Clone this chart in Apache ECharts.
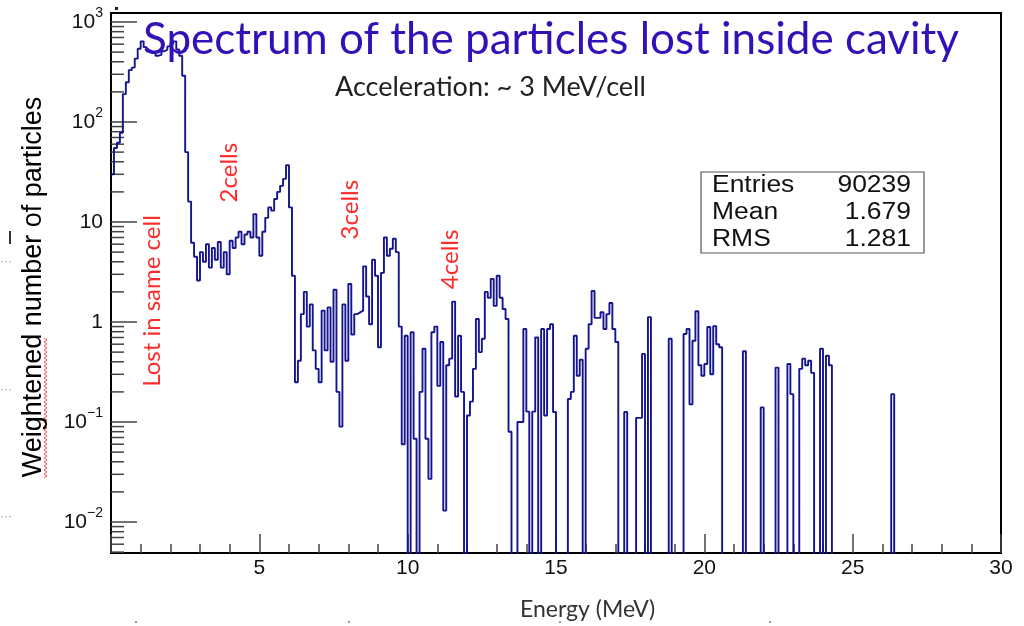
<!DOCTYPE html>
<html>
<head>
<meta charset="utf-8">
<script src="https://cdn.jsdelivr.net/npm/echarts@6/dist/echarts.min.js"></script>
<style>
html,body{margin:0;padding:0;background:#fff;}
#chart{width:1024px;height:626px;}
</style>
</head>
<body>
<div id="chart"></div>
<script>
// ---- data ----
const chartTitle = 'Spectrum of the particles lost inside cavity';
const subTitle = 'Acceleration: ~ 3 MeV/cell';
const xTitle = 'Energy (MeV)';
const yTitle = 'Weightened number of particles';
const xMin = 0, xMax = 30, xStep = 5;
const yMin = 0.0049, yMax = 1230;
const binWidth = 0.1; // MeV
// weighted counts per 0.1 MeV bin, from 0 MeV (0 = empty bin)
const binCounts = [
  // 0.0 - 2.6
  30, 55, 62, 78, 190, 250, 330, 350, 430, 540,
  640, 560, 510, 490, 490, 460, 470, 510, 530, 570,
  610, 640, 530, 460, 290, 50, 16,
  // 2.7 - 6.0
  6.2, 4.5, 2.6, 5.0, 4.0, 6.0, 3.5, 5.5, 4.2, 6.3,
  3.5, 5.0, 3.0, 6.5, 5.5, 7.0, 8.0, 6.0, 7.5, 8.0,
  7.0, 12, 7.0, 4.6, 8.0, 11, 14, 13, 17, 20,
  23, 27, 37, 14,
  // 6.1 - 9.9
  2.9, 0.25, 0.41, 1.2, 2.0, 0.9, 1.5, 0.52, 0.34, 0.25,
  1.3, 0.52, 1.4, 0.4, 2.1, 0.2, 0.09, 1.5, 0.41, 2.4,
  0.75, 1.2, 1.25, 1.3, 3.6, 1.8, 0.95, 4.2, 2.9, 0.56,
  3.1, 7.0, 4.6, 5.4, 6.8, 5.0, 0.9, 0.06, 0.73,
  // 10.0 - 14.9
  0, 0.79, 0.068, 0, 0.2, 0.54, 0.068, 0.027, 0.79, 0.9,
  0.23, 0.63, 0.013, 0.37, 0.43, 1.6, 0.18, 0.73, 0.2, 0,
  0.116, 0.16, 0.34, 1.07, 0.5, 0.68, 2.0, 1.75, 2.7, 1.45,
  2.9, 1.75, 1.35, 1.07, 0.08, 0, 0, 0.1, 0.1, 0.85,
  0.127, 0, 0.127, 0.7, 0, 0.85, 0.116, 0.85, 0.95, 0.126,
  // 15.0 - 19.9
  0, 0, 0, 0, 0.17, 0.2, 0.73, 0.29, 0.42, 0,
  0.54, 0.95, 2.05, 1.1, 1.1, 1.25, 0.85, 1.2, 1.55, 0.85,
  0.63, 0, 0, 0.126, 0, 0, 0, 0.11, 0.11, 0.48,
  0, 1.12, 0, 0, 0, 0, 0, 0, 0.68, 0,
  0, 0, 0, 0.76, 0.85, 0.15, 0.65, 1.28, 0.37, 0.29,
  // 20.0 - 24.9
  0.38, 0.89, 0.3, 0.91, 0.6, 0.56, 0, 0, 0, 0,
  0, 0, 0, 0.51, 0, 0, 0, 0, 0, 0.14,
  0, 0, 0, 0, 0.35, 0, 0, 0, 0.38, 0.19,
  0, 0, 0.34, 0.43, 0.37, 0.41, 0.31, 0, 0, 0.54,
  0, 0.46, 0.37, 0, 0, 0, 0, 0, 0, 0,
  // 25.0 - 29.9
  0, 0, 0, 0, 0, 0, 0, 0, 0, 0,
  0, 0, 0, 0.19, 0, 0, 0, 0, 0, 0,
  0, 0, 0, 0, 0, 0, 0, 0, 0, 0,
  0, 0, 0, 0, 0, 0, 0, 0, 0, 0,
  0, 0, 0, 0, 0, 0, 0, 0, 0, 0
];
const statLabels = ['Entries', 'Mean', 'RMS'];
const statValues = ['90239', '1.679', '1.281'];
const notes = [
  {text: 'Lost in same cell', E: 1.38, v: 0.225},
  {text: '2cells', E: 4.0, v: 15.7},
  {text: '3cells', E: 8.05, v: 6.7},
  {text: '4cells', E: 11.45, v: 2.13}
];

// ---- build histogram outline ----
const FLOOR = 1e-4; // empty bins fall below the axis and are clipped
const histLine = [];
binCounts.forEach((v, i) => {
  const y = v > 0 ? v : FLOOR;
  histLine.push([i * binWidth, y], [(i + 1) * binWidth, y]);
});

// log-axis tick marks (major at decades, minor at 2..9 x decade)
const yTicks = [];
for (let k = -3; k <= 3; k++) {
  for (let m = 1; m <= 9; m++) {
    const val = m * Math.pow(10, k);
    if (val >= yMin && val <= yMax) yTicks.push([0, val, m === 1 ? 26 : 13]);
  }
}

function yLabel(v) {
  const k = Math.log10(v);
  const r = Math.round(k);
  if (Math.abs(k - r) > 1e-6) return '';
  if (r === 0) return '{b|1}';
  if (r === 1) return '{b|10}';
  return '{b|10}{s|' + (r < 0 ? '\u2212' + (-r) : String(r)) + '}';
}

// red spell-check squiggle under the first word of the y title
const squiggle = [];
for (let y = 478, j = 0; y >= 338; y -= 2, j++) squiggle.push([j % 2 ? 47 : 44, y]);

const chart = echarts.init(document.getElementById('chart'));
const sans = 'Liberation Sans';
const humanist = 'Lato';

chart.setOption({
  animation: false,
  backgroundColor: '#fff',
  grid: {left: 111, right: 23, top: 13, bottom: 73, show: true,
         borderColor: '#000', borderWidth: 2, containLabel: false},
  xAxis: {
    type: 'value', min: xMin, max: xMax, interval: xStep,
    axisLine: {show: true, lineStyle: {color: '#000', width: 2}},
    axisTick: {show: true, inside: true, length: 19, lineStyle: {color: '#444', width: 1.5}},
    minorTick: {show: true, splitNumber: 5, length: 9, lineStyle: {color: '#444', width: 1.5}},
    splitLine: {show: false},
    axisLabel: {margin: 5, fontFamily: sans, fontSize: 21, color: '#111',
                formatter: v => (v === 0 ? '' : String(v))}
  },
  yAxis: {
    type: 'log', logBase: 10, min: yMin, max: yMax,
    axisLine: {show: true, lineStyle: {color: '#000', width: 2}},
    axisTick: {show: false},
    splitLine: {show: false},
    axisLabel: {
      margin: 8, showMinLabel: false, showMaxLabel: false,
      formatter: yLabel,
      rich: {
        b: {fontFamily: sans, fontSize: 21, color: '#111'},
        s: {fontFamily: sans, fontSize: 14, color: '#111', padding: [0, 0, 17, 0]}
      }
    }
  },
  series: [
    {
      type: 'custom', silent: true, clip: true,
      data: yTicks,
      encode: {x: 0, y: 1},
      renderItem: (params, api) => {
        const p = api.coord([api.value(0), api.value(1)]);
        return {type: 'line',
                shape: {x1: p[0], y1: p[1], x2: p[0] + api.value(2), y2: p[1]},
                style: {stroke: '#444', lineWidth: 1.5}};
      }
    },
    {
      type: 'line', data: histLine, showSymbol: false, symbol: 'none',
      clip: true, silent: true,
      lineStyle: {color: '#14148f', width: 1.9},
      z: 3
    },
    {
      type: 'custom', silent: true, clip: false,
      data: notes.map(n => [n.E, n.v]),
      encode: {x: 0, y: 1},
      renderItem: (params, api) => {
        const p = api.coord([api.value(0), api.value(1)]);
        return {type: 'text', x: p[0], y: p[1], rotation: Math.PI / 2,
                style: {text: notes[params.dataIndex].text, fill: '#ff2a2a',
                        font: '24px ' + humanist, align: 'left', verticalAlign: 'middle'}};
      },
      z: 5
    }
  ],
  graphic: [
    {type: 'text', left: 143, top: 18, z: 10,
     style: {text: chartTitle, fill: '#3311b8', font: '44px ' + humanist}},
    {type: 'text', left: 335, top: 74, z: 10,
     style: {text: subTitle, fill: '#222', font: '27px ' + humanist}},
    {type: 'text', left: 520, top: 598, z: 10,
     style: {text: xTitle, fill: '#333', font: '23px ' + humanist}},
    {type: 'text', x: 34, y: 287, rotation: Math.PI / 2, z: 10,
     style: {text: yTitle, fill: '#000', font: '27px ' + sans, align: 'center', verticalAlign: 'middle'}},
    {type: 'polyline', shape: {points: squiggle}, z: 9,
     style: {stroke: '#ff5050', lineWidth: 1, fill: null}},
    {type: 'rect', shape: {x: 701, y: 172, width: 223, height: 81}, z: 10,
     style: {fill: '#fff', stroke: '#555', lineWidth: 1.2}},
    ...statLabels.map((t, i) => ({type: 'text', x: 712, y: 186 + i * 27, z: 11, scaleX: 1.15,
      style: {text: t, fill: '#111', font: '23px ' + sans, verticalAlign: 'middle'}})),
    ...statValues.map((t, i) => ({type: 'text', x: 911, y: 186 + i * 27, z: 11, scaleX: 1.15,
      style: {text: t, fill: '#111', font: '23px ' + sans, align: 'right', verticalAlign: 'middle'}})),
    {type: 'rect', shape: {x: 9, y: 231, width: 2, height: 13}, style: {fill: '#333'}},
    {type: 'rect', shape: {x: 115, y: 7, width: 3, height: 3}, style: {fill: '#222'}},
    ...[262, 390, 517].map(y => ({type: 'text', x: 0, y: y, style: {text: '\u00b7\u00b7\u00b7', fill: '#999', font: '12px ' + sans, verticalAlign: 'middle'}})),
    ...[135, 348, 559, 769].map(x => ({type: 'rect', shape: {x: x, y: 621, width: 2, height: 2}, style: {fill: '#999'}}))
  ]
});
</script>
</body>
</html>
